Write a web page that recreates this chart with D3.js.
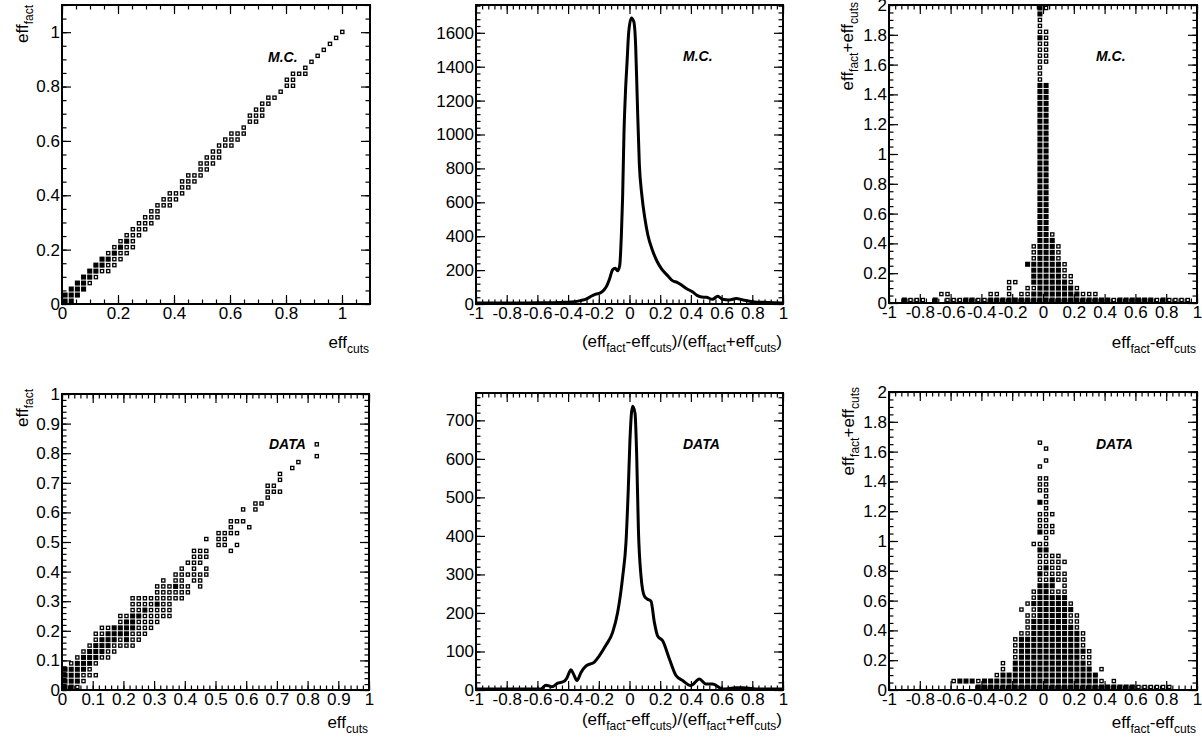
<!DOCTYPE html>
<html>
<head>
<meta charset="utf-8">
<script src="https://cdn.jsdelivr.net/npm/d3@7"></script>
<style>
  body { margin: 0; background: #fff; }
  svg { display: block; }
</style>
</head>
<body>
<div id="figure"></div>
<script>
// 2D histograms, one row of bins per entry:
// [row j, first column i, pattern]   'o' small box, '#' full box, '.' empty bin
const mcEffRows = [
  [45, 45, 'o'], [44, 44, 'o'], [43, 43, 'o'], [42, 42, 'o'], [41, 41, 'o'],
  [40, 40, 'o'], [39, 39, 'o'], [38, 37, 'ooo'], [37, 36, 'oo'], [36, 36, 'oo'],
  [35, 35, 'o'], [34, 33, 'oo'], [33, 32, 'oo'], [32, 31, 'oo'], [31, 30, 'ooo'],
  [30, 30, 'oo'], [29, 29, 'o'], [28, 27, 'ooo'], [27, 26, 'ooo'], [26, 25, 'ooo'],
  [25, 24, 'oo'], [24, 23, 'ooo'], [23, 22, 'ooo'], [22, 22, 'oo'], [21, 20, 'ooo'],
  [20, 19, 'ooo'], [19, 19, 'oo'], [18, 17, 'ooo'], [17, 16, 'ooo'], [16, 15, 'ooo'],
  [15, 14, 'oo'], [14, 13, 'ooo'], [13, 12, 'ooo'], [12, 11, 'ooo'], [11, 10, 'ooo'],
  [10, 9, 'o#o'], [9, 8, 'o#oo'], [8, 7, 'o#oo'], [7, 6, '##oo'], [6, 5, '##oo'],
  [5, 4, '##oo'], [4, 3, '##o'], [3, 2, '##o'], [2, 1, '###'], [1, 0, '###'], [0, 0, '##']
];

const dataEffRows = [
  [41, 41, 'o'], [39, 41, 'o'], [38, 38, 'o'], [37, 37, 'o'], [36, 35, 'o'],
  [35, 35, 'o'], [34, 33, 'oo'], [33, 33, 'ooo'], [32, 33, 'o'], [31, 31, 'oo'],
  [30, 29, 'o.o'], [28, 27, 'ooo'], [27, 27, 'o..o'], [26, 25, 'oooo'], [25, 23, 'o.oo'],
  [24, 25, 'oo.o'], [23, 21, 'ooo...o'], [22, 21, 'ooo'], [21, 20, 'ooo'], [20, 19, 'o.o.o'],
  [19, 18, 'oooooo'], [18, 16, 'o.oo.oo'], [17, 15, 'ooo#oo.o'], [16, 15, 'oooooo'],
  [15, 11, 'ooooooooo'], [14, 11, 'oooo#oo'], [13, 11, 'oo#oooo'], [12, 9, 'oo##ooooo'],
  [11, 9, 'o##oooo'], [10, 6, 'oo####ooo'], [9, 5, 'oo####ooo'], [8, 5, 'o###o#oo'],
  [7, 4, 'o###oooo'], [6, 3, 'o###oo'], [5, 2, 'o###oo'], [4, 1, 'o###o'],
  [3, 0, '####o'], [2, 0, '###ooo'], [1, 0, '###o'], [0, 0, '##o']
];

const mcDiffRows = [
  [49, 24, '#o'], [48, 24, '#'], [47, 24, 'o'], [46, 24, 'o'], [45, 24, 'oo'],
  [44, 24, '#o'], [43, 24, 'oo'], [42, 24, 'oo'], [41, 24, 'oo'], [40, 24, 'oo'],
  [39, 24, 'o'], [38, 24, 'o'], [37, 24, 'o'], [36, 24, '##'], [35, 24, '##'],
  [34, 24, '##'], [33, 24, '##'], [32, 24, '##'], [31, 24, '##'], [30, 24, '##'],
  [29, 24, '##'], [28, 24, '##'], [27, 24, '##'], [26, 24, '##'], [25, 24, '##'],
  [24, 24, '##'], [23, 24, '##'], [22, 24, '##'], [21, 24, '##'], [20, 24, '##'],
  [19, 24, '##'], [18, 24, '##'], [17, 24, '##'], [16, 24, '##'], [15, 24, '##'],
  [14, 24, '##'], [13, 24, '##'], [12, 24, '##'], [11, 24, '##o'], [10, 24, '###'],
  [9, 23, 'o###o'], [8, 23, 'o###o'], [7, 23, 'o###o'], [6, 22, '######o'],
  [5, 23, '#####o'], [4, 23, '#####oo'], [3, 19, 'oo..######o'], [2, 19, 'o..oo######o'],
  [1, 8, 'oo......oo.o.oo########ooo'],
  [0, 2, '#ooo.#.ooo##oo####################o######o#oooo']
];

const dataDiffRows = [
  [41, 24, 'o'], [40, 25, 'o'], [38, 25, 'o'], [37, 24, 'o'], [35, 24, 'oo'],
  [34, 24, 'oo'], [33, 24, 'oo'], [32, 25, 'o'], [31, 24, '#o'], [30, 25, 'o'],
  [29, 24, 'ooo'], [28, 24, 'oo'], [27, 24, 'ooo'], [26, 24, '#oo'], [25, 25, 'o'],
  [24, 23, 'ooo'], [23, 24, '##'], [22, 24, 'oooo'], [21, 24, 'ooooo'], [20, 24, 'o#oo'],
  [19, 24, '#oooo'], [18, 24, 'oo#oo'], [17, 24, '###.o'], [16, 23, 'o##ooo'],
  [15, 23, 'o#####'], [14, 22, 'o######o'], [13, 21, 'o.o######'], [12, 22, 'oo#####oo'],
  [11, 22, 'o######oo'], [10, 22, 'o#######o'], [9, 21, 'oo########o'],
  [8, 20, 'o##########o'], [7, 20, 'o##########o'], [6, 20, 'o###########o'],
  [5, 20, 'o##########oo'], [4, 18, 'o.############o'], [3, 18, 'o.#############.o'],
  [2, 17, 'o################'], [1, 10, 'o###o###################o.o'],
  [0, 14, '##########################oooooo']
];

// binning of the 2D histograms: [bins, low, high]
const effMcBinning = [50, 0, 1.1];
const effDataBinning = [50, 0, 1];
const diffBinning = [50, -1, 1];
const sumBinning = [50, 0, 2];

// (eff_fact-eff_cuts)/(eff_fact+eff_cuts): [x, entries]
const mcRatio = [
  [-1, 0], [-0.8, 0], [-0.6, 1], [-0.5, 2], [-0.42, 4], [-0.36, 7], [-0.32, 14],
  [-0.28, 24], [-0.25, 40], [-0.22, 52], [-0.19, 60], [-0.165, 78], [-0.15, 98],
  [-0.13, 142], [-0.11, 196], [-0.093, 205], [-0.078, 190], [-0.064, 220], [-0.053, 400],
  [-0.045, 620], [-0.036, 1000], [-0.026, 1250], [-0.016, 1420], [-0.005, 1600],
  [0.012, 1682], [0.028, 1660], [0.04, 1520], [0.05, 1220], [0.064, 820], [0.08, 640],
  [0.1, 500], [0.12, 400], [0.15, 310], [0.18, 245], [0.21, 200], [0.25, 160],
  [0.28, 132], [0.31, 122], [0.34, 105], [0.37, 86], [0.41, 66], [0.44, 45],
  [0.47, 35], [0.5, 34], [0.54, 22], [0.575, 40], [0.605, 22], [0.65, 18],
  [0.695, 26], [0.74, 18], [0.8, 8], [0.9, 3], [1, 0]
];
const dataRatio = [
  [-1, 0], [-0.8, 0], [-0.62, 0], [-0.577, 0], [-0.544, 10], [-0.505, 6], [-0.468, 15],
  [-0.425, 20], [-0.41, 27], [-0.381, 50], [-0.364, 38], [-0.342, 22], [-0.316, 43],
  [-0.283, 60], [-0.229, 70], [-0.197, 86], [-0.153, 114], [-0.11, 147], [-0.077, 199],
  [-0.044, 293], [-0.023, 380], [-0.008, 518], [0.003, 647], [0.02, 734], [0.036, 716],
  [0.047, 604], [0.058, 414], [0.075, 293], [0.097, 241], [0.118, 233], [0.14, 228],
  [0.162, 173], [0.183, 138], [0.216, 125], [0.26, 78], [0.303, 35], [0.346, 22],
  [0.4, 9], [0.455, 26], [0.498, 13], [0.542, 13], [0.607, 0], [0.694, 3],
  [0.737, 3], [0.846, 0], [1, 0]
];

// tick labels
const effMcTicks = [0, 0.2, 0.4, 0.6, 0.8, 1];
const effDataTicks = [0, 0.1, 0.2, 0.3, 0.4, 0.5, 0.6, 0.7, 0.8, 0.9, 1];
const diffTicks = [-1, -0.8, -0.6, -0.4, -0.2, 0, 0.2, 0.4, 0.6, 0.8, 1];
const sumTicks = [0, 0.2, 0.4, 0.6, 0.8, 1, 1.2, 1.4, 1.6, 1.8, 2];
const mcCountTicks = [0, 200, 400, 600, 800, 1000, 1200, 1400, 1600];
const dataCountTicks = [0, 100, 200, 300, 400, 500, 600, 700];

// axis titles: [text, subscript?]
const effCuts = [['eff', 0], ['cuts', 1]];
const effFact = [['eff', 0], ['fact', 1]];
const ratioTitle = [['(eff', 0], ['fact', 1], ['-eff', 0], ['cuts', 1], [')/(eff', 0],
  ['fact', 1], ['+eff', 0], ['cuts', 1], [')', 0]];
const diffTitle = [['eff', 0], ['fact', 1], ['-eff', 0], ['cuts', 1]];
const sumTitle = [['eff', 0], ['fact', 1], ['+eff', 0], ['cuts', 1]];

const FONT = '"Liberation Sans", Arial, Helvetica, sans-serif';

const panels = [
  { box: [62, 5, 370, 304], x: [0, 1.1], y: [0, 1.1], xt: effMcTicks, xm: 0.05, yt: effMcTicks, ym: 0.05,
    rows: mcEffRows, xb: effMcBinning, yb: effMcBinning,
    xTitle: effCuts, xTitleY: 348, yTitle: effFact, yTitleAt: [28, 5], tag: 'M.C.', tagAt: [268, 62] },
  { box: [476, 5, 783, 304], x: [-1, 1], y: [0, 1764], xt: diffTicks, xm: 0.04, yt: mcCountTicks, ym: 40,
    line: mcRatio, xTitle: ratioTitle, xTitleY: 347, tag: 'M.C.', tagAt: [683, 61] },
  { box: [889, 5, 1197, 303], x: [-1, 1], y: [0, 2], xt: diffTicks, xm: 0.04, yt: sumTicks, ym: 0.05,
    rows: mcDiffRows, xb: diffBinning, yb: sumBinning,
    xTitle: diffTitle, xTitleY: 348, yTitle: sumTitle, yTitleAt: [853, 2], tag: 'M.C.', tagAt: [1096, 61] },
  { box: [62, 394, 369, 690], x: [0, 1], y: [0, 1], xt: effDataTicks, xm: 0.02, yt: effDataTicks, ym: 0.02,
    rows: dataEffRows, xb: effDataBinning, yb: effDataBinning,
    xTitle: effCuts, xTitleY: 728, yTitle: effFact, yTitleAt: [28, 389], tag: 'DATA', tagAt: [269, 449] },
  { box: [476, 393, 783, 690], x: [-1, 1], y: [0, 771], xt: diffTicks, xm: 0.04, yt: dataCountTicks, ym: 20,
    line: dataRatio, xTitle: ratioTitle, xTitleY: 725, tag: 'DATA', tagAt: [683, 449] },
  { box: [889, 392, 1197, 690], x: [-1, 1], y: [0, 2], xt: diffTicks, xm: 0.04, yt: sumTicks, ym: 0.05,
    rows: dataDiffRows, xb: diffBinning, yb: sumBinning,
    xTitle: diffTitle, xTitleY: 728, yTitle: sumTitle, yTitleAt: [854, 387], tag: 'DATA', tagAt: [1096, 449] }
];

const svg = d3.select('#figure').append('svg')
  .attr('width', 1202).attr('height', 748)
  .style('font-family', FONT);

const fmt = d => String(Math.round(d * 100) / 100);

function richText(sel, parts) {
  let sub = 0;
  parts.forEach(([t, s]) => {
    const ts = sel.append('tspan').text(t).attr('font-size', s ? 12 : 17);
    if (s !== sub) ts.attr('dy', s ? 4.5 : -4.5);
    sub = s;
  });
}

function drawBoxes(g, x, y, rows, xb, yb) {
  const dx = (xb[2] - xb[1]) / xb[0], dy = (yb[2] - yb[1]) / yb[0];
  const cells = rows.flatMap(([j, i0, pat]) =>
    Array.from(pat).map((c, k) => ({ i: i0 + k, j, c })).filter(d => d.c !== '.'));
  const cw = x(xb[1] + dx) - x(xb[1]), ch = y(yb[1]) - y(yb[1] + dy);
  const full = Math.min(cw, ch) - 0.9, small = 3.2;
  const size = d => d.c === '#' ? full : small;
  g.append('g').selectAll('rect').data(cells).join('rect')
    .attr('x', d => x(xb[1] + (d.i + 0.5) * dx) - size(d) / 2)
    .attr('y', d => y(yb[1] + (d.j + 0.5) * dy) - size(d) / 2)
    .attr('width', size).attr('height', size)
    .attr('fill', d => d.c === '#' ? '#000' : '#fff')
    .attr('stroke', d => d.c === '#' ? 'none' : '#000')
    .attr('stroke-width', 1.3);
}

function drawAxes(g, x, y, w, h, p) {
  const maj = 9, mnr = 4.5;
  const xMinor = d3.range(p.x[0], p.x[1] + 1e-9, p.xm);
  const yMinor = d3.range(p.y[0], p.y[1] + 1e-9, p.ym);
  const put = (axis, tr) => {
    const a = g.append('g').attr('transform', tr).call(axis);
    a.select('.domain').remove();
    a.selectAll('line').attr('stroke', '#000').attr('stroke-width', 1.2);
    a.selectAll('text').attr('fill', '#000').attr('font-size', 17).attr('font-family', FONT);
  };
  put(d3.axisBottom(x).tickValues(p.xt).tickSize(-maj).tickPadding(3).tickFormat(fmt), `translate(0,${h})`);
  put(d3.axisBottom(x).tickValues(xMinor).tickSize(-mnr).tickFormat(''), `translate(0,${h})`);
  put(d3.axisTop(x).tickValues(p.xt).tickSize(-maj).tickFormat(''), 'translate(0,0)');
  put(d3.axisTop(x).tickValues(xMinor).tickSize(-mnr).tickFormat(''), 'translate(0,0)');
  put(d3.axisLeft(y).tickValues(p.yt).tickSize(-maj).tickPadding(2).tickFormat(fmt), 'translate(0,0)');
  put(d3.axisLeft(y).tickValues(yMinor).tickSize(-mnr).tickFormat(''), 'translate(0,0)');
  put(d3.axisRight(y).tickValues(p.yt).tickSize(-maj).tickFormat(''), `translate(${w},0)`);
  put(d3.axisRight(y).tickValues(yMinor).tickSize(-mnr).tickFormat(''), `translate(${w},0)`);
}

panels.forEach((p, n) => {
  const [l, t, r, b] = p.box;
  const w = r - l, h = b - t;
  const g = svg.append('g').attr('transform', `translate(${l},${t})`);
  const x = d3.scaleLinear().domain(p.x).range([0, w]);
  const y = d3.scaleLinear().domain(p.y).range([h, 0]);

  g.append('clipPath').attr('id', 'clip' + n)
    .append('rect').attr('y', -2).attr('width', w).attr('height', h + 4);
  const plot = g.append('g').attr('clip-path', `url(#clip${n})`);

  if (p.rows) drawBoxes(plot, x, y, p.rows, p.xb, p.yb);
  if (p.line) {
    plot.append('path').datum(p.line)
      .attr('fill', 'none').attr('stroke', '#000').attr('stroke-width', 3)
      .attr('stroke-linejoin', 'round')
      .attr('d', d3.line().x(d => x(d[0])).y(d => y(d[1]) - 1).curve(d3.curveMonotoneX));
  }

  drawAxes(g, x, y, w, h, p);
  g.append('rect').attr('width', w).attr('height', h)
    .attr('fill', 'none').attr('stroke', '#000').attr('stroke-width', 2);

  // x title, right aligned under the axis
  richText(svg.append('text').attr('x', r - 1).attr('y', p.xTitleY)
    .attr('text-anchor', 'end').attr('fill', '#000'), p.xTitle);

  // y title, rotated, ending at the top of the axis
  if (p.yTitle) {
    richText(svg.append('text')
      .attr('transform', `translate(${p.yTitleAt[0]},${p.yTitleAt[1]}) rotate(-90)`)
      .attr('text-anchor', 'end').attr('fill', '#000'), p.yTitle);
  }

  svg.append('text').attr('x', p.tagAt[0]).attr('y', p.tagAt[1])
    .attr('font-size', 14).attr('font-weight', 'bold').attr('font-style', 'italic')
    .attr('fill', '#000').text(p.tag);
});
</script>
</body>
</html>
